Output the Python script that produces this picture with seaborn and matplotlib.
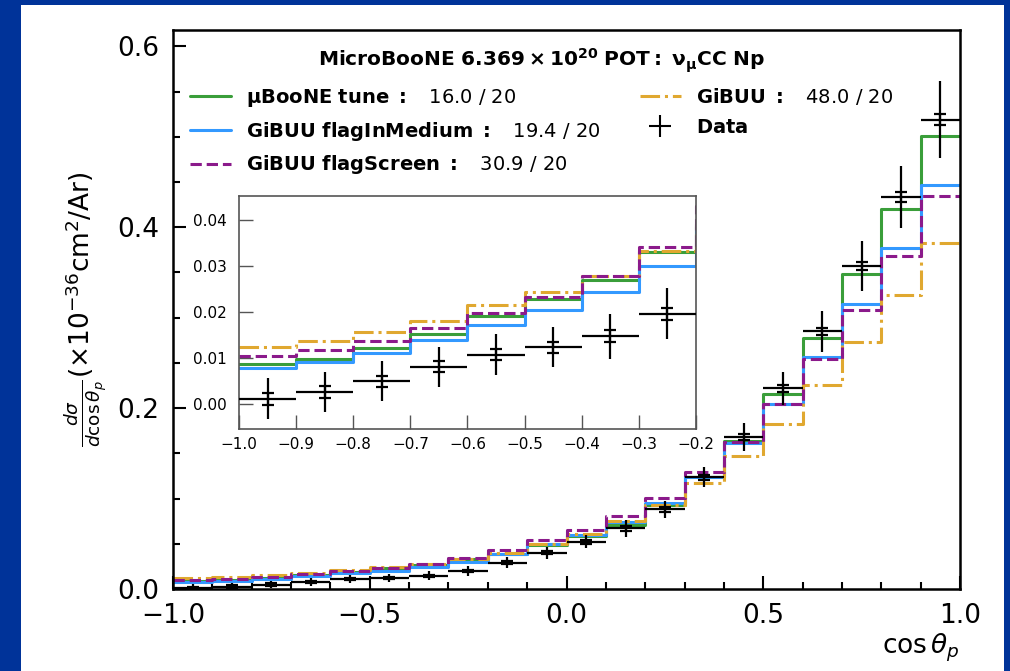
import numpy as np
import matplotlib
matplotlib.use("Agg")
import matplotlib.pyplot as plt
import seaborn as sns
from matplotlib.patches import Rectangle
from matplotlib.lines import Line2D
from matplotlib.ticker import MultipleLocator, FuncFormatter

# ---------------- data ----------------
bin_edges = [-1.0, -0.9, -0.8, -0.7, -0.6, -0.5, -0.4, -0.3, -0.2, -0.1, 0.0,
             0.1, 0.2, 0.3, 0.4, 0.5, 0.6, 0.7, 0.8, 0.9, 1.0]
bin_centers = [-0.95, -0.85, -0.75, -0.65, -0.55, -0.45, -0.35, -0.25, -0.15, -0.05,
               0.05, 0.15, 0.25, 0.35, 0.45, 0.55, 0.65, 0.75, 0.85, 0.95]

ubtune = [0.0086, 0.0098, 0.0122, 0.0152, 0.0191, 0.0228, 0.0270, 0.0330, 0.0390, 0.0490,
          0.0590, 0.0707, 0.0930, 0.1240, 0.1640, 0.2155, 0.2780, 0.3477, 0.4206, 0.5006]
inmedium = [0.0078, 0.0090, 0.0111, 0.0139, 0.0172, 0.0203, 0.0243, 0.0299, 0.0385, 0.0495,
            0.0597, 0.0740, 0.0954, 0.1240, 0.1617, 0.2050, 0.2560, 0.3146, 0.3770, 0.4464]
screen = [0.0104, 0.0116, 0.0136, 0.0165, 0.0197, 0.0233, 0.0278, 0.0342, 0.0431, 0.0541,
          0.0652, 0.0810, 0.1002, 0.1290, 0.1630, 0.2040, 0.2538, 0.3090, 0.3680, 0.4340]
gibuu = [0.0123, 0.0136, 0.0156, 0.0181, 0.0214, 0.0243, 0.0278, 0.0332, 0.0395, 0.0500,
         0.0608, 0.0755, 0.0928, 0.1168, 0.1470, 0.1820, 0.2250, 0.2730, 0.3250, 0.3826]

data = [0.0011, 0.0026, 0.0049, 0.0080, 0.0107, 0.0123, 0.0147, 0.0196, 0.0290, 0.0401,
        0.0523, 0.0670, 0.0880, 0.1234, 0.1680, 0.2217, 0.2850, 0.3570, 0.4335, 0.5190]
err_total = [0.0044, 0.0044, 0.0043, 0.0044, 0.0044, 0.0044, 0.0049, 0.0055, 0.0060, 0.0065,
             0.0070, 0.0092, 0.0092, 0.0110, 0.0150, 0.0178, 0.0226, 0.0276, 0.0340, 0.0423]
err_stat = [0.0013, 0.0013, 0.0012, 0.0012, 0.0012, 0.0012, 0.0013, 0.0013, 0.0015, 0.0018,
            0.0020, 0.0025, 0.0028, 0.0030, 0.0030, 0.0035, 0.0040, 0.0045, 0.0055, 0.0060]

model_names = ["μBooNE tune", "GiBUU flagInMedium", "GiBUU flagScreen", "GiBUU"]
chi2 = ["16.0 / 20", "19.4 / 20", "30.9 / 20", "48.0 / 20"]
title_text = r"$\mathbf{MicroBooNE\ 6.369\times10^{20}\ POT:\ \nu_{\mu}CC\ Np}$"

colors = {"tune": "#3a9e3a", "inmed": "#3399ff", "screen": "#8b1a8b", "gibuu": "#e0a830"}

# ---------------- style ----------------
sns.set_style("ticks")
plt.rcParams["font.family"] = ["DejaVu Sans"]
plt.rcParams["mathtext.fontset"] = "dejavusans"
for k in ["text.color", "axes.labelcolor", "xtick.color", "ytick.color", "axes.edgecolor"]:
    plt.rcParams[k] = "black"

W, H = 1010, 671
fig = plt.figure(figsize=(W / 100, H / 100), dpi=100, facecolor="#003399")
fig.patches.append(Rectangle((21 / W, 0), (1004 - 21) / W, 1 - 5 / H,
                             transform=fig.transFigure, facecolor="white",
                             edgecolor="none", zorder=-10))

ax = fig.add_axes([173 / W, 1 - 589 / H, (960 - 173) / W, (589 - 30) / H])
axin = fig.add_axes([239 / W, 1 - 429 / H, (696 - 239) / W, (429 - 196) / H])

series = [(ubtune, colors["tune"], "-"),
          (inmedium, colors["inmed"], "-"),
          (gibuu, colors["gibuu"], "-."),
          (screen, colors["screen"], "--")]

half_w = np.diff(bin_edges) / 2.0


def draw(a, lw):
    for vals, c, ls in series:
        sns.histplot(x=bin_centers, weights=vals, bins=bin_edges, element="step",
                     fill=False, color=c, linestyle=ls, linewidth=lw, ax=a)
    a.errorbar(bin_centers, data, xerr=half_w, yerr=err_total, fmt="none",
               ecolor="black", elinewidth=1.6, zorder=5)
    a.errorbar(bin_centers, data, yerr=err_stat, fmt="none", ecolor="black",
               elinewidth=1.6, capsize=4.5, capthick=1.6, zorder=5)


draw(ax, 2.2)
draw(axin, 2.2)

# ---------------- main axes ----------------
ax.set_xlim(-1, 1)
ax.set_ylim(0, 0.618)
ax.xaxis.set_major_locator(MultipleLocator(0.5))
ax.xaxis.set_minor_locator(MultipleLocator(0.1))
ax.yaxis.set_major_locator(MultipleLocator(0.2))
ax.yaxis.set_minor_locator(MultipleLocator(0.05))
ax.tick_params(which="both", direction="in", top=False, right=False,
               labelsize=19, pad=10, width=1.5, color="black", labelcolor="black")
ax.tick_params(which="major", length=9.5)
ax.tick_params(which="minor", length=5)
for s in ax.spines.values():
    s.set_linewidth(1.8)
    s.set_color("black")
ax.set_xlabel(r"$\cos\theta_p$", loc="right", fontsize=19, labelpad=2, color="black")
ax.set_ylabel(r"$\frac{d\sigma}{d\cos\theta_p}(\times10^{-36}\mathrm{cm}^2/\mathrm{Ar})$",
              fontsize=19, labelpad=6, color="black")

handles = [Line2D([], [], color=colors["tune"], lw=2.2, ls="-"),
           Line2D([], [], color=colors["inmed"], lw=2.2, ls="-"),
           Line2D([], [], color=colors["screen"], lw=2.2, ls="--"),
           Line2D([], [], color=colors["gibuu"], lw=2.2, ls="-."),
           Line2D([], [], color="black", marker="+", markersize=16, mew=1.5, ls="none")]
labels = []
for n, c2 in zip(model_names, chi2):
    labels.append(r"$\mathbf{" + n.replace(" ", r"\ ") + r"\ :}$   " + c2)
labels.append(r"$\mathbf{Data}$")

leg = ax.legend(handles, labels, ncol=2, loc="upper left",
                bbox_to_anchor=(17 / 787, (589 - 47) / 559), frameon=False,
                fontsize=14, title=title_text, title_fontsize=14.5, borderpad=0,
                borderaxespad=0, handlelength=2.1, handletextpad=0.8,
                columnspacing=2.0, labelspacing=0.55)
for t in leg.get_texts():
    t.set_color("black")
leg.get_title().set_color("black")

# ---------------- inset ----------------
axin.set_facecolor("white")
axin.set_xlim(-1.0, -0.2)
axin.set_ylim(-0.0055, 0.0452)
axin.xaxis.set_major_locator(MultipleLocator(0.1))
axin.yaxis.set_major_locator(MultipleLocator(0.01))
axin.xaxis.set_minor_locator(plt.NullLocator())
axin.yaxis.set_minor_locator(plt.NullLocator())


def fmt1(v, p):
    s = f"{v:.1f}"
    if s == "-0.0":
        s = "0.0"
    return s.replace("-", "\u2212")


def fmt2(v, p):
    s = f"{v:.2f}"
    if s == "-0.00":
        s = "0.00"
    return s.replace("-", "\u2212")


axin.xaxis.set_major_formatter(FuncFormatter(fmt1))
axin.yaxis.set_major_formatter(FuncFormatter(fmt2))
axin.tick_params(which="major", direction="in", top=False, right=False,
                 labelsize=11, length=10, width=1.0, color="#555555", labelcolor="black")
axin.tick_params(axis="x", pad=6)
axin.tick_params(axis="y", pad=9)
for s in axin.spines.values():
    s.set_linewidth(1.2)
    s.set_color("#555555")
axin.set_xlabel("")
axin.set_ylabel("")

fig.savefig("out.png", dpi=100, facecolor=fig.get_facecolor())
